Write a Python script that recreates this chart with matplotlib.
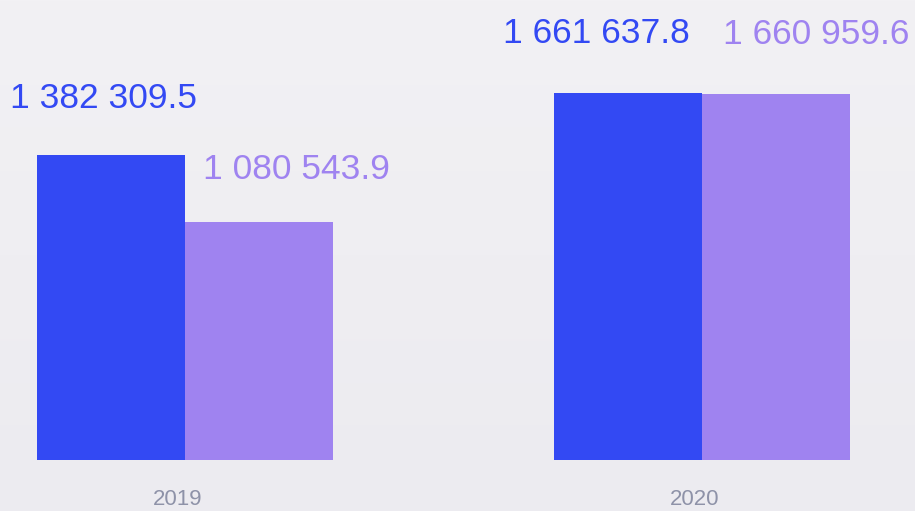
import numpy as np
import matplotlib
matplotlib.use('Agg')
import matplotlib.pyplot as plt
from matplotlib.transforms import offset_copy

# données
years = ['2019', '2020']
serie_a = [1382309.5, 1661637.8]
serie_b = [1080543.9, 1660959.6]

col_a = '#3349F3'
col_b = '#9F83F0'
col_year = '#8E92A8'

# décalage des étiquettes (px)
dx_a = [-7.5, -31.5]
dy_a = [47, 50]
dx_b = [37.5, 40.5]
dy_b = [43, 50]

W, H = 915, 511
fig = plt.figure(figsize=(W / 100, H / 100), dpi=100)

# fond dégradé léger
bg = fig.add_axes([0, 0, 1, 1], zorder=-1)
grad = np.linspace(0, 1, 256).reshape(-1, 1)
cmap = matplotlib.colors.LinearSegmentedColormap.from_list('bg', ['#F2F1F4', '#ECEBF0'])
bg.imshow(grad, aspect='auto', cmap=cmap, extent=[0, 1, 0, 1], origin='upper')
bg.axis('off')

# axe : y=0 à 460 px depuis le haut, 185 px = centre 2019, 517 px entre groupes
y0 = 460
scale = 305 / 1382309.5  # px par unité
ax = fig.add_axes([0, (H - y0) / H, 1, y0 / H])
ax.patch.set_alpha(0)
ax.set_ylim(0, y0 / scale)
step = 517
ax.set_xlim(-185 / step, (W - 185) / step)

x = np.arange(len(years))
w = 148 / step
ax.bar(x - w / 2, serie_a, w, color=col_a, linewidth=0)
ax.bar(x + w / 2, serie_b, w, color=col_b, linewidth=0)

font = 'Liberation Sans'
for i in range(len(years)):
    tr = offset_copy(ax.transData, fig=fig, x=dx_a[i], y=dy_a[i], units='dots')
    ax.text(x[i] - w / 2, serie_a[i], f'{serie_a[i]:,.1f}'.replace(',', ' '),
            transform=tr, ha='center', va='baseline', color=col_a,
            fontsize=25.5, family=font)
    tr = offset_copy(ax.transData, fig=fig, x=dx_b[i], y=dy_b[i], units='dots')
    ax.text(x[i] + w / 2, serie_b[i], f'{serie_b[i]:,.1f}'.replace(',', ' '),
            transform=tr, ha='center', va='baseline', color=col_b,
            fontsize=25.5, family=font)
    # années
    tr = offset_copy(ax.transData, fig=fig, x=-7, y=-(505 - y0), units='dots')
    ax.text(x[i], 0, years[i], transform=tr, ha='center', va='baseline',
            color=col_year, fontsize=16, family=font)

for s in ax.spines.values():
    s.set_visible(False)
ax.set_xticks([])
ax.set_yticks([])

fig.savefig('out.png', dpi=100)
